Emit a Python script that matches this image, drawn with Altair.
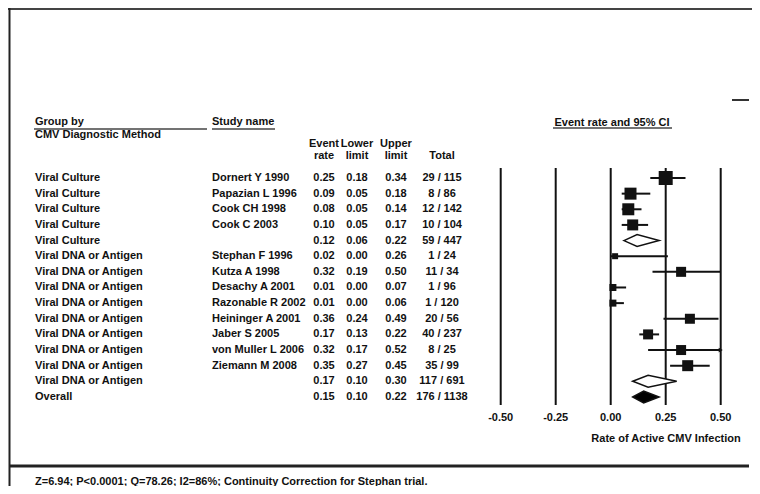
import altair as alt
import pandas as pd

# ---------------- data ----------------
groups = ["Viral Culture"] * 5 + ["Viral DNA or Antigen"] * 9 + ["Overall"]
studies = ["Dornert Y 1990", "Papazian L 1996", "Cook CH 1998", "Cook C 2003", "",
           "Stephan F 1996", "Kutza A 1998", "Desachy A 2001", "Razonable R 2002",
           "Heininger A 2001", "Jaber S 2005", "von Muller L 2006", "Ziemann M 2008", "", ""]
rates = [0.25, 0.09, 0.08, 0.10, 0.12, 0.02, 0.32, 0.01, 0.01, 0.36, 0.17, 0.32, 0.35, 0.17, 0.15]
lowers = [0.18, 0.05, 0.05, 0.05, 0.06, 0.00, 0.19, 0.00, 0.00, 0.24, 0.13, 0.17, 0.27, 0.10, 0.10]
uppers = [0.34, 0.18, 0.14, 0.17, 0.22, 0.26, 0.50, 0.07, 0.06, 0.49, 0.22, 0.52, 0.45, 0.30, 0.22]
totals = ["29 / 115", "8 / 86", "12 / 142", "10 / 104", "59 / 447", "1 / 24", "11 / 34",
          "1 / 96", "1 / 120", "20 / 56", "40 / 237", "8 / 25", "35 / 99", "117 / 691", "176 / 1138"]
kinds = ["study"] * 4 + ["subtotal"] + ["study"] * 8 + ["subtotal", "overall"]
square_side = [14, 12, 12, 11, 0, 6, 10, 7, 7, 10, 10, 10, 11, 0, 0]
ticks = [-0.5, -0.25, 0.0, 0.25, 0.5]

header_group = ["Group by", "CMV Diagnostic Method"]
header_study = "Study name"
header_cols_1 = ["Event", "Lower", "Upper"]
header_cols_2 = ["rate", "limit", "limit", "Total"]
plot_title = "Event rate and 95% CI"
x_title = "Rate of Active CMV Infection"
footnote = "Z=6.94; P<0.0001; Q=78.26; I2=86%; Continuity Correction for Stephan trial."

# ---------------- layout ----------------
W, H = 744, 478
PX_ZERO, PX_PER_UNIT = 602.7, 220.0
ROW0, ROW_STEP = 170.0, 15.64
FONT = "Liberation Sans"
FS = 11
INK = "#111111"

xs = alt.Scale(domain=[-PX_ZERO / PX_PER_UNIT, (W - PX_ZERO) / PX_PER_UNIT], nice=False, zero=False)
y_lo = -ROW0 / ROW_STEP
ys = alt.Scale(domain=[y_lo, y_lo + H / ROW_STEP], reverse=True, nice=False, zero=False)

df = pd.DataFrame(dict(row=list(range(len(rates))), group=groups, study=studies, rate=rates,
                       lo=lowers, hi=uppers, total=totals, kind=kinds, side=square_side))
df["hi_c"] = df["hi"].clip(upper=max(ticks))
df["rate_s"] = df["rate"].map(lambda v: f"{v:.2f}")
df["lo_s"] = df["lo"].map(lambda v: f"{v:.2f}")
df["hi_s"] = df["hi"].map(lambda v: f"{v:.2f}")
df["sq"] = df["side"] ** 2

study_df = df[df["kind"] == "study"]
arrow_df = df[df["hi"] > max(ticks)].assign(ax=max(ticks))

dia_rows = []
for _, r in df[df["kind"] != "study"].iterrows():
    fillc = "black" if r["kind"] == "overall" else "white"
    for xv, dy in [(r["lo"], 0.0), (r["rate"], 0.38), (r["hi"], 0.0)]:
        dia_rows.append(dict(id=int(r["row"]), x=xv, y1=r["row"] - dy, y2=r["row"] + dy, fillc=fillc))
dia_df = pd.DataFrame(dia_rows)

tick_df = pd.DataFrame({"t": ticks, "lab": [f"{t:.2f}" for t in ticks]})
one = pd.DataFrame({"k": [0]})

Y = alt.Y("row:Q", scale=ys, axis=None)


def txt(**kw):
    base = dict(font=FONT, fontSize=FS, fontWeight="bold", color=INK, baseline="middle")
    base.update(kw)
    return base


def label(text, x, y, align="left"):
    return alt.Chart(one).mark_text(**txt(align=align, text=text)).encode(
        x=alt.value(x), y=alt.value(y))


def hline(x1, x2, y, w=1.5, color=INK):
    return alt.Chart(one).mark_rule(color=color, strokeWidth=w).encode(
        x=alt.value(x1), x2=alt.value(x2), y=alt.value(y))


layers = []
# frame
layers.append(hline(0, W, 1, 2, "#444"))
layers.append(alt.Chart(one).mark_rule(color="#222", strokeWidth=2).encode(
    x=alt.value(1.5), y=alt.value(0), y2=alt.value(H)))
layers.append(hline(724, W, 92, 2, "#333"))

# headers
layers.append(label(header_group[0], 27, 114))
layers.append(label(header_group[1], 27, 127))
layers.append(hline(26, 199, 121, 1.5, "#444"))
layers.append(label(header_study, 204, 114))
layers.append(hline(204, 267, 121, 1.5, "#444"))
for name, xp in zip(header_cols_1, [316, 349, 388]):
    layers.append(label(name, xp, 136, "center"))
for name, xp in zip(header_cols_2, [316, 349, 388, 434]):
    layers.append(label(name, xp, 148, "center"))
layers.append(label(plot_title, 604, 115, "center"))
layers.append(hline(545, 664, 120, 1.5, "#444"))

# table columns
for field, xp, al in [("group", 27, "left"), ("study", 204, "left"), ("rate_s", 316, "center"),
                      ("lo_s", 349, "center"), ("hi_s", 388, "center"), ("total", 434, "center")]:
    layers.append(alt.Chart(df).mark_text(**txt(align=al)).encode(
        x=alt.value(xp), y=Y, text=f"{field}:N"))

# reference lines
layers.append(alt.Chart(tick_df).mark_rule(color=INK, strokeWidth=2).encode(
    x=alt.X("t:Q", scale=xs, axis=None), y=alt.value(160), y2=alt.value(397)))
layers.append(alt.Chart(tick_df).mark_text(**txt(align="center")).encode(
    x=alt.X("t:Q", scale=xs, axis=None), y=alt.value(410), text="lab:N"))
layers.append(label(x_title, 658, 431, "center"))

# CI lines and squares
layers.append(alt.Chart(study_df).mark_rule(color=INK, strokeWidth=2).encode(
    x=alt.X("lo:Q", scale=xs, axis=None), x2="hi_c:Q", y=Y))
layers.append(alt.Chart(study_df).mark_square(color=INK, opacity=1, filled=True).encode(
    x=alt.X("rate:Q", scale=xs, axis=None), y=Y, size=alt.Size("sq:Q", scale=None, legend=None)))
layers.append(alt.Chart(arrow_df).mark_point(shape="triangle-right", filled=True, color=INK,
                                            opacity=1, size=22).encode(
    x=alt.X("ax:Q", scale=xs, axis=None), y=Y))

# diamonds
layers.append(alt.Chart(dia_df).mark_area(orient="vertical", stroke=INK, strokeWidth=1.5,
                                          opacity=1).encode(
    x=alt.X("x:Q", scale=xs, axis=None),
    y=alt.Y("y1:Q", scale=ys, axis=None), y2="y2:Q",
    detail="id:N",
    fill=alt.Fill("fillc:N", scale=None, legend=None)))

# bottom rule + footnote
layers.append(hline(2, W, 458, 3, "#222"))
layers.append(label(footnote, 27, 474))

# white strip over the right edge (covers a stray edge line)
layers.append(alt.Chart(one).mark_rule(color="white", strokeWidth=3).encode(
    x=alt.value(W - 1.5), y=alt.value(3), y2=alt.value(H)))

chart = alt.layer(*layers).properties(
    width=W, height=H, autosize="none", padding=0
).configure_view(stroke="transparent", strokeWidth=0)

chart.save("out.html", embed_options={"renderer": "svg", "actions": False})
